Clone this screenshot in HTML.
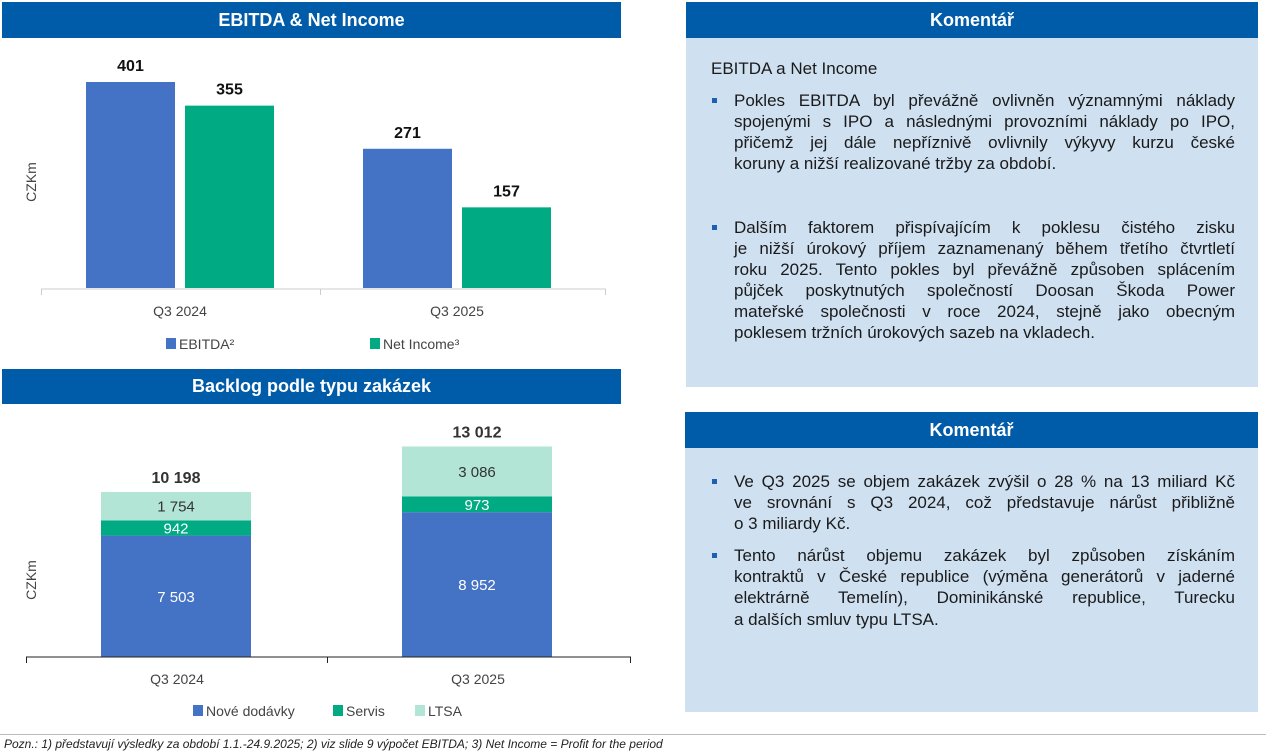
<!DOCTYPE html>
<html><head><meta charset="utf-8">
<style>
body{margin:0;width:1266px;height:755px;background:#fff;position:relative;overflow:hidden;font-family:"Liberation Sans",sans-serif;}
.hdr{position:absolute;background:#005ba9;color:#fff;font-weight:bold;font-size:18px;text-align:center;}
.box{position:absolute;background:#cfe0f1;}
.ln{position:absolute;left:734px;width:501px;height:22px;line-height:22px;font-size:17px;color:#1a1a1a;white-space:nowrap;}
.j{text-align:justify;text-align-last:justify;white-space:normal;}
.bul{position:absolute;left:712px;width:5px;height:5px;background:#1f5fb0;}
svg{position:absolute;left:0;top:0;}
</style></head><body>
<div class="hdr" style="left:2px;top:2px;width:619px;height:36px;line-height:36px;">EBITDA &amp; Net Income</div>
<div class="hdr" style="left:2px;top:369px;width:619px;height:35px;line-height:35px;">Backlog podle typu zakázek</div>
<div class="hdr" style="left:686px;top:2px;width:572px;height:36px;line-height:36px;">Komentář</div>
<div class="box" style="left:686px;top:38px;width:572px;height:349px;"></div>
<div class="hdr" style="left:685px;top:412px;width:573px;height:36px;line-height:36px;">Komentář</div>
<div class="box" style="left:685px;top:448px;width:573px;height:264px;"></div>

<div class="ln" style="left:711px;top:58px;">EBITDA a Net Income</div>
<div class="bul" style="top:98px"></div>
<div class="ln j" style="top:90px">Pokles EBITDA byl převážně ovlivněn významnými náklady</div>
<div class="ln j" style="top:111px">spojenými s IPO a následnými provozními náklady po IPO,</div>
<div class="ln j" style="top:132px">přičemž jej dále nepříznivě ovlivnily výkyvy kurzu české</div>
<div class="ln" style="top:153px">koruny a nižší realizované tržby za období.</div>
<div class="bul" style="top:225px"></div>
<div class="ln j" style="top:217px">Dalším faktorem přispívajícím k poklesu čistého zisku</div>
<div class="ln j" style="top:238px">je nižší úrokový příjem zaznamenaný během třetího čtvrtletí</div>
<div class="ln j" style="top:259px">roku 2025. Tento pokles byl převážně způsoben splácením</div>
<div class="ln j" style="top:280px">půjček poskytnutých společností Doosan Škoda Power</div>
<div class="ln j" style="top:301px">mateřské společnosti v roce 2024, stejně jako obecným</div>
<div class="ln" style="top:322px">poklesem tržních úrokových sazeb na vkladech.</div>

<div class="bul" style="top:479px"></div>
<div class="ln j" style="top:471px">Ve Q3 2025 se objem zakázek zvýšil o 28 % na 13 miliard Kč</div>
<div class="ln j" style="top:492px">ve srovnání s Q3 2024, což představuje nárůst přibližně</div>
<div class="ln" style="top:513px">o 3 miliardy Kč.</div>
<div class="bul" style="top:553px"></div>
<div class="ln j" style="top:545px">Tento nárůst objemu zakázek byl způsoben získáním</div>
<div class="ln j" style="top:566px">kontraktů v České republice (výměna generátorů v jaderné</div>
<div class="ln j" style="top:587px">elektrárně Temelín), Dominikánské republice, Turecku</div>
<div class="ln" style="top:609px">a dalších smluv typu LTSA.</div>

<div style="position:absolute;left:0;top:734px;width:1266px;height:1px;background:#bbb;"></div>
<div style="position:absolute;left:4px;top:737px;font-size:12px;font-style:italic;color:#222;">Pozn.: 1) představují výsledky za období 1.1.-24.9.2025; 2) viz slide 9 výpočet EBITDA; 3) Net Income = Profit for the period</div>

<svg id="chart" width="1266" height="755"></svg>
<script>
const cats1 = ["Q3 2024","Q3 2025"];
const ebitda = [401,271];
const netIncome = [355,157];
const cats2 = ["Q3 2024","Q3 2025"];
const nove = [7503,8952];
const servis = [942,973];
const ltsa = [1754,3086];
const totals = [10198,13012];

const NS="http://www.w3.org/2000/svg";
const svg=document.getElementById('chart');
function el(tag,attrs,text){const e=document.createElementNS(NS,tag);for(const k in attrs)e.setAttribute(k,attrs[k]);if(text!==undefined)e.textContent=text;svg.appendChild(e);return e;}
function fmt(v){return String(v).replace(/\B(?=(\d{3})+(?!\d))/g,' ');}

// chart 1
const base1=288, sc1=206/401;
const y1=v=>base1-v*sc1;
const grpX1=[86,363];
cats1.forEach((c,i)=>{
  let b=el('rect',{x:grpX1[i],y:y1(ebitda[i]),width:89,height:base1-y1(ebitda[i]),fill:'#4472c4'});
  
  let t=el('text',{x:grpX1[i]+44.5,y:y1(ebitda[i])-11,'text-anchor':'middle','font-size':16,'font-weight':'bold',fill:'#111'},fmt(ebitda[i]));
  
  let n=el('rect',{x:grpX1[i]+99,y:y1(netIncome[i]),width:89,height:base1-y1(netIncome[i]),fill:'#00ab84'});
  
  let t2=el('text',{x:grpX1[i]+143.5,y:y1(netIncome[i])-11,'text-anchor':'middle','font-size':16,'font-weight':'bold',fill:'#111'},fmt(netIncome[i]));
  
  let xl=el('text',{x:[180,457][i],y:316,'text-anchor':'middle','font-size':14,fill:'#444'},c);
  
});
let ax1=el('path',{d:'M41.5,295V289H605.5V295M320.5,289V295',stroke:'#ccc',fill:'none'});

let yt1=el('text',{transform:'translate(36,182) rotate(-90)','text-anchor':'middle','font-size':14,fill:'#444'},'CZKm');

let lg=el('rect',{x:166,y:338,width:10,height:11,fill:'#4472c4'});
let lgt=el('text',{x:179,y:349,'font-size':14,fill:'#444'},'EBITDA²');
let lg2=el('rect',{x:370,y:338,width:10,height:11,fill:'#00ab84'});
let lgt2=el('text',{x:383,y:349,'font-size':14,fill:'#444'},'Net Income³');

// chart 2
const base2=657, sc2=165/10198;
const grpX2=[101,402];
cats2.forEach((c,i)=>{
  const segs=[[nove[i],'#4472c4','#fff','nove'],[servis[i],'#00ab84','#fff','servis'],[ltsa[i],'#b2e5d6','#333','ltsa']];
  let acc=0;
  segs.forEach(s=>{
    const yb=base2-acc*sc2, yt=base2-(acc+s[0])*sc2;
    let r=el('rect',{x:grpX2[i],y:yt,width:150,height:yb-yt,fill:s[1]});
    
    let t=el('text',{x:grpX2[i]+75,y:(yt+yb)/2+5.5,'text-anchor':'middle','font-size':15,fill:s[2]},fmt(s[0]));
    
    acc+=s[0];
  });
  let tt=el('text',{x:grpX2[i]+75,y:base2-totals[i]*sc2-9,'text-anchor':'middle','font-size':16,'font-weight':'bold',fill:'#333'},fmt(totals[i]));
  
  let xl=el('text',{x:[177,478][i],y:684,'text-anchor':'middle','font-size':14,fill:'#444'},c);
  
});
let ax2=el('path',{d:'M26.5,663V657H630.5V663M327.5,657V663',stroke:'#222',fill:'none'});

let yt2=el('text',{transform:'translate(36,580) rotate(-90)','text-anchor':'middle','font-size':14,fill:'#444'},'CZKm');

[[193,'#4472c4','Nové dodávky'],[333,'#00ab84','Servis'],[415,'#b2e5d6','LTSA']].forEach(l=>{
  let r=el('rect',{x:l[0],y:705,width:10,height:11,fill:l[1]});
  let t=el('text',{x:l[0]+13,y:716,'font-size':14,fill:'#444'},l[2]);
});
</script>
</body></html>
